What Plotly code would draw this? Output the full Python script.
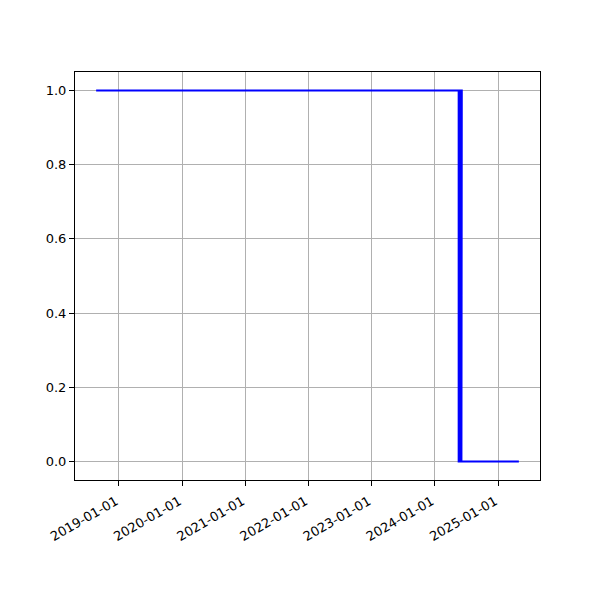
import pandas as pd
import plotly.graph_objects as go

# step down around late May / early June 2024 (zig-zag between 1 and 0)
dates = ["2018-08-22", "2024-06-05", "2024-06-03", "2024-06-01", "2024-05-30",
         "2024-05-28", "2024-05-26", "2024-05-24", "2024-05-22", "2024-05-20",
         "2024-05-18", "2024-05-18", "2025-05-01"]
values = [1, 1, 0, 1, 0, 1, 0, 1, 0, 1, 1, 0, 0]

yticks = [0.0, 0.2, 0.4, 0.6, 0.8, 1.0]
xticks = ["2019-01-01", "2020-01-01", "2021-01-01", "2022-01-01",
          "2023-01-01", "2024-01-01", "2025-01-01"]

d = pd.to_datetime(dates)
span = d.max() - d.min()
xr = [d.min() - span * 0.05, d.max() + span * 0.05]

fig = go.Figure()
fig.add_trace(go.Scatter(x=d, y=values, mode="lines",
                         line=dict(color="#0000ff", width=2), showlegend=False))

font = dict(family="DejaVu Sans", size=13, color="black")
fig.update_layout(
    width=600, height=600,
    margin=dict(l=67, r=68, t=64, b=128),
    paper_bgcolor="white", plot_bgcolor="white",
    font=font,
)
fig.update_xaxes(
    type="date", range=xr, automargin=False,
    tickvals=pd.to_datetime(xticks), ticktext=xticks, tickangle=-30,
    ticklabelshift=-3, ticklabelstandoff=3,
    showgrid=True, gridcolor="#b0b0b0", gridwidth=1,
    showline=True, linecolor="black", linewidth=1, mirror=True,
    ticks="outside", ticklen=5, tickcolor="black", zeroline=False,
)
fig.update_yaxes(
    range=[-0.05, 1.05], tickvals=yticks, tickformat=".1f", automargin=False,
    showgrid=True, gridcolor="#b0b0b0", gridwidth=1,
    showline=True, linecolor="black", linewidth=1, mirror=True,
    ticks="outside", ticklen=5, tickcolor="black", zeroline=False,
)
fig.write_html("out.html")
